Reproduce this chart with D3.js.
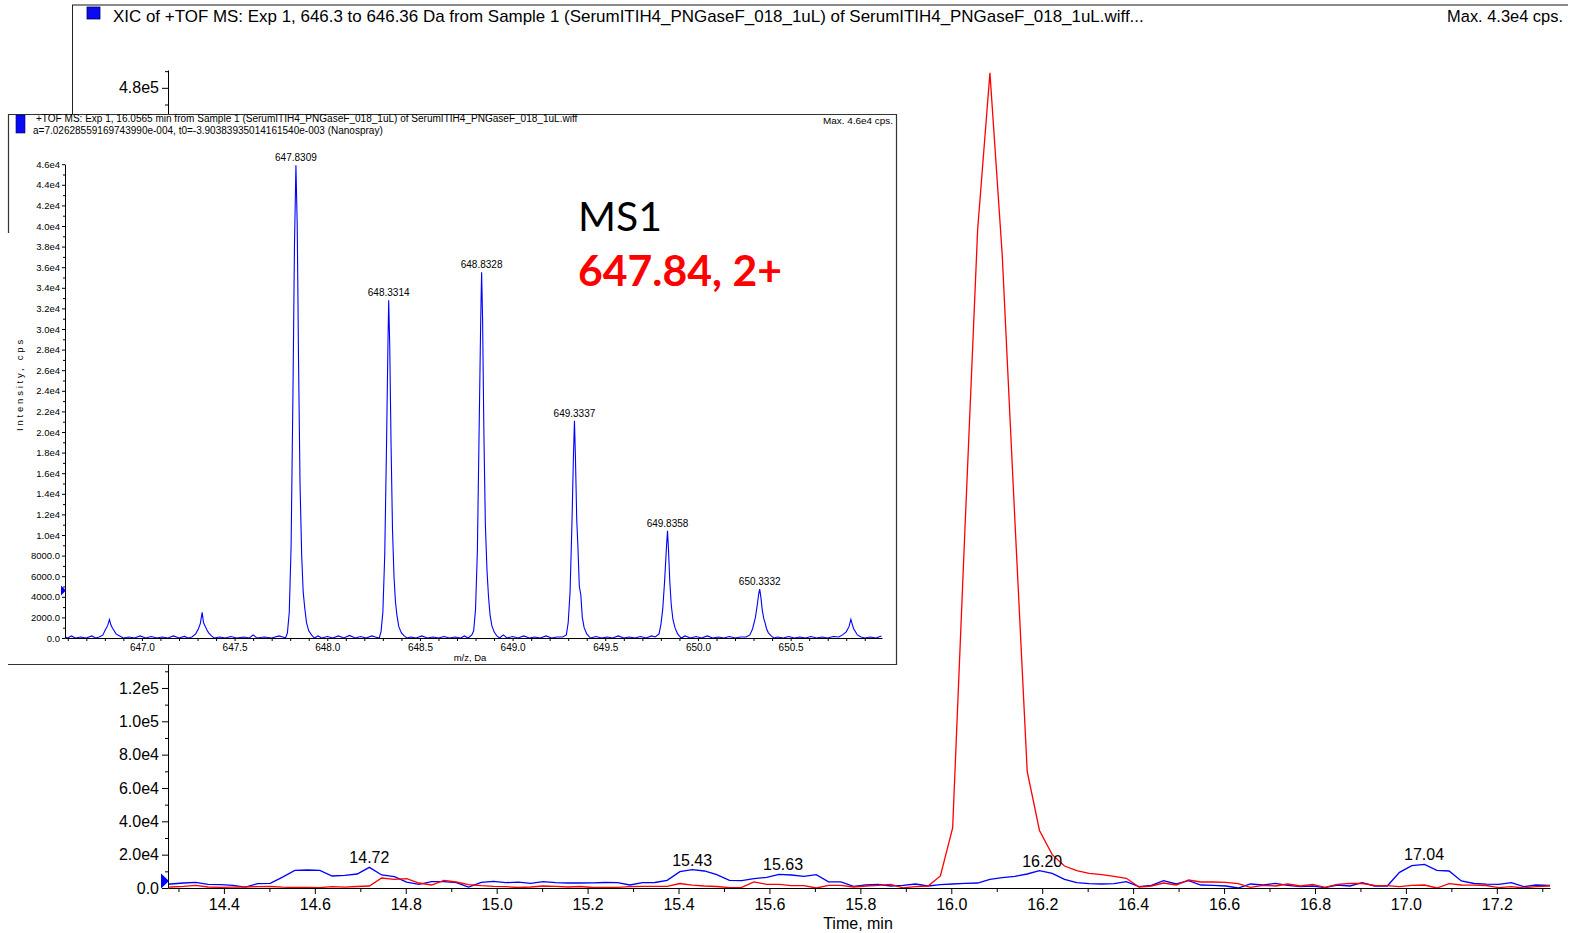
<!DOCTYPE html>
<html>
<head>
<meta charset="utf-8">
<script src="https://cdn.jsdelivr.net/npm/d3@7"></script>
<style>
body { margin: 0; background: #fff; }
svg { display: block; }
text { font-family: "Liberation Sans", Arial, sans-serif; }
</style>
</head>
<body>
<script>
// XIC traces (time in min, intensity in cps)
const xicTime = [14.256, 14.283, 14.311, 14.338, 14.365, 14.393, 14.420, 14.447, 14.474, 14.502,
    14.529, 14.556, 14.584, 14.611, 14.638, 14.666, 14.693, 14.720, 14.747, 14.775,
    14.802, 14.829, 14.857, 14.884, 14.911, 14.938, 14.966, 14.993, 15.020, 15.048,
    15.075, 15.102, 15.130, 15.157, 15.184, 15.211, 15.239, 15.266, 15.293, 15.321,
    15.348, 15.375, 15.403, 15.430, 15.457, 15.484, 15.512, 15.539, 15.566, 15.594,
    15.621, 15.648, 15.676, 15.703, 15.730, 15.757, 15.785, 15.812, 15.839, 15.867,
    15.894, 15.921, 15.949, 15.976, 16.003, 16.030, 16.058, 16.085, 16.112, 16.140,
    16.167, 16.194, 16.222, 16.249, 16.276, 16.303, 16.331, 16.358, 16.385, 16.413,
    16.440, 16.467, 16.495, 16.522, 16.549, 16.576, 16.604, 16.631, 16.658, 16.686,
    16.713, 16.740, 16.768, 16.795, 16.822, 16.849, 16.877, 16.904, 16.931, 16.959,
    16.986, 17.013, 17.041, 17.068, 17.095, 17.122, 17.150, 17.177, 17.204, 17.232,
    17.259, 17.286, 17.314, 17.341]

const xicBlue = [2400, 2400, 3000, 3400, 2200, 2000, 1600, 500, 2600, 2800,
    6500, 10600, 10800, 10600, 7200, 7600, 8400, 12400, 7800, 6800,
    3500, 2200, 3800, 3800, 3200, 500, 3400, 4000, 3200, 3500,
    2800, 3800, 3200, 3000, 3000, 3100, 3300, 3200, 1800, 3200,
    3300, 4600, 9800, 11000, 10200, 8000, 4600, 4400, 5600, 6400,
    8200, 7800, 7000, 8000, 3700, 3700, 1000, 1800, 2200, 1200,
    1600, 2400, 1200, 2000, 2400, 2800, 3000, 5200, 6200, 7000,
    8400, 10400, 8800, 5200, 3200, 2600, 2400, 2600, 3800, 800,
    1600, 4400, 2400, 4400, 1800, 1600, 1200, 0, 2400, 1800,
    2800, 1600, 800, 1200, 200, 1800, 1200, 3200, 1200, 1200,
    9400, 13400, 14200, 10600, 10200, 4200, 2700, 2300, 2200, 3200,
    800, 1800, 1600, 1600]

const xicRed = [500, 600, 1000, 1600, 600, 400, 500, 600, 800, 900,
    500, 300, 400, 200, 800, 500, 900, 1200, 6000, 5200,
    5600, 3000, 1800, 4600, 3600, 2000, 1400, 1000, 800, 300,
    600, 1200, 1000, 600, 900, 300, 400, 400, 800, 1000,
    1000, 1000, 2700, 1700, 1200, 900, 200, 400, 3700, 2200,
    2200, 1400, 1400, 0, 1600, 1600, 600, 1200, 1600, 2200,
    100, 800, 1200, 7200, 36000, 215000, 395000, 489000, 380000, 220000,
    70000, 34500, 20000, 13200, 10400, 8800, 8000, 7000, 5800, 600,
    1200, 3000, 1800, 4800, 3600, 3600, 3400, 2600, 400, 1600,
    1200, 2400, 1200, 2200, 400, 2200, 2800, 2700, 1600, 1400,
    800, 1600, 1800, 0, 2600, 1800, 1700, 1500, 200, 800,
    0, 800, 1200, 1200]

const xicPeakTimes = [14.72, 15.43, 15.63, 16.20, 17.04]
const xicTimeTicks = [14.4, 14.6, 14.8, 15.0, 15.2, 15.4, 15.6, 15.8, 16.0, 16.2, 16.4, 16.6, 16.8, 17.0, 17.2]
const xicTimeMinor = [14.3, 14.5, 14.7, 14.9, 15.1, 15.3, 15.5, 15.7, 15.9, 16.1, 16.3, 16.5, 16.7, 16.9, 17.1, 17.3]
const xicYTicks = [0, 20000, 40000, 60000, 80000, 100000, 120000, 140000, 160000, 180000, 200000, 220000,
    240000, 260000, 280000, 300000, 320000, 340000, 360000, 380000, 400000, 420000, 440000, 460000, 480000]

// MS1 spectrum of the inset: [m/z, intensity]
const msBaseline = [[646.585, 100], [646.60, 0], [646.62, 200], [646.64, 0], [646.67, 100], [646.70, 0], [646.73, 200], [646.75, 0],
    [646.93, 100], [646.96, 0], [646.99, 200], [647.02, 0], [647.05, 150], [647.08, 0], [647.11, 100], [647.14, 0], [647.17, 200], [647.20, 0], [647.23, 150], [647.25, 0],
    [647.42, 100], [647.45, 0], [647.48, 150], [647.51, 0], [647.55, 100], [647.58, 0], [647.60, 300], [647.62, 0], [647.66, 100], [647.70, 0], [647.74, 200],
    [647.95, 200], [647.97, 0], [648.00, 150], [648.03, 0], [648.06, 200], [648.09, 0], [648.12, 250], [648.15, 0], [648.18, 150], [648.21, 0], [648.24, 200],
    [648.45, 100], [648.48, 0], [648.51, 200], [648.54, 0], [648.57, 100], [648.60, 0], [648.63, 150], [648.66, 0], [648.69, 100], [648.72, 0], [648.74, 200],
    [648.95, 300], [648.97, 0], [649.00, 150], [649.03, 0], [649.06, 200], [649.09, 0], [649.12, 100], [649.15, 0], [649.18, 200], [649.21, 0], [649.24, 100],
    [649.45, 150], [649.48, 0], [649.51, 100], [649.54, 0], [649.57, 200], [649.60, 0], [649.63, 100], [649.66, 0], [649.69, 150], [649.72, 0], [649.75, 200],
    [649.93, 200], [649.96, 0], [649.99, 150], [650.02, 0], [650.05, 200], [650.08, 0], [650.11, 100], [650.14, 0], [650.17, 150], [650.20, 0], [650.23, 100],
    [650.43, 100], [650.46, 0], [650.49, 150], [650.52, 0], [650.55, 100], [650.58, 0], [650.61, 150], [650.64, 0], [650.67, 100], [650.70, 0], [650.73, 150],
    [650.93, 100], [650.96, 0], [650.99, 200]]

const msSmallPeaks = [[646.77, 100], [646.79, 300], [646.80, 700], [646.815, 1200], [646.825, 1800], [646.832, 1300], [646.84, 1000], [646.85, 700], [646.86, 400], [646.88, 200], [646.90, 0],
    [647.27, 100], [647.29, 400], [647.305, 900], [647.315, 1400], [647.325, 2500], [647.332, 1500], [647.34, 1200], [647.35, 800], [647.36, 500], [647.375, 200], [647.39, 0],
    [650.76, 100], [650.78, 300], [650.80, 600], [650.815, 1100], [650.825, 1800], [650.833, 1300], [650.84, 900], [650.85, 600], [650.86, 300], [650.88, 100], [650.90, 0]]

const msIsotope1 = [[647.760, 100], [647.775, 0], [647.785, 500], [647.795, 2500], [647.805, 9000], [647.815, 24000], [647.823, 38000], [647.8309, 45900],
    [647.838, 40000], [647.845, 27000], [647.853, 15000], [647.862, 8000], [647.870, 4500], [647.878, 3000], [647.888, 1500], [647.900, 700], [647.915, 300], [647.930, 0]]
const msIsotope2 = [[648.26, 100], [648.28, 0], [648.29, 600], [648.30, 2500], [648.31, 8000], [648.32, 19000], [648.327, 28000], [648.3314, 32800],
    [648.337, 28500], [648.344, 19000], [648.352, 10500], [648.36, 6000], [648.368, 3500], [648.376, 2200], [648.386, 1100], [648.40, 500], [648.415, 200], [648.43, 0]]
const msIsotope3 = [[648.76, 0], [648.78, 300], [648.79, 700], [648.80, 2800], [648.81, 8500], [648.82, 21000], [648.828, 31000], [648.8328, 35500],
    [648.838, 31000], [648.845, 20000], [648.853, 11000], [648.862, 6500], [648.87, 4000], [648.878, 2300], [648.888, 1200], [648.90, 600], [648.915, 200], [648.93, 0]]
const msIsotope4 = [[649.27, 100], [649.29, 300], [649.30, 1500], [649.31, 4500], [649.32, 11000], [649.328, 17500], [649.3337, 21100],
    [649.339, 17500], [649.346, 11500], [649.352, 9000], [649.36, 5000], [649.368, 4200], [649.376, 2000], [649.386, 1000], [649.40, 400], [649.42, 0]]
const msIsotope5 = [[649.77, 100], [649.79, 400], [649.80, 1300], [649.81, 2800], [649.82, 5500], [649.83, 8800], [649.8358, 10400],
    [649.841, 8600], [649.848, 5500], [649.856, 3200], [649.865, 1800], [649.876, 1000], [649.89, 400], [649.91, 0]]
const msIsotope6 = [[650.26, 100], [650.28, 300], [650.295, 900], [650.31, 2000], [650.32, 3200], [650.328, 4300], [650.3332, 4750],
    [650.34, 3900], [650.347, 2700], [650.355, 1900], [650.362, 1500], [650.37, 900], [650.38, 500], [650.395, 200], [650.41, 0]]

const msPeakLabels = ['647.8309', '648.3314', '648.8328', '649.3337', '649.8358', '650.3332']
const msYTicks = [0, 2000, 4000, 6000, 8000, 10000, 12000, 14000, 16000, 18000, 20000, 22000,
    24000, 26000, 28000, 30000, 32000, 34000, 36000, 38000, 40000, 42000, 44000, 46000]
const msXTicks = [647.0, 647.5, 648.0, 648.5, 649.0, 649.5, 650.0, 650.5]
const msXMinor = [646.6, 646.7, 646.8, 646.9, 647.1, 647.2, 647.3, 647.4, 647.6, 647.7, 647.8, 647.9,
    648.1, 648.2, 648.3, 648.4, 648.6, 648.7, 648.8, 648.9, 649.1, 649.2, 649.3, 649.4,
    649.6, 649.7, 649.8, 649.9, 650.1, 650.2, 650.3, 650.4, 650.6, 650.7, 650.8, 650.9]

const xicTitle = 'XIC of +TOF MS: Exp 1, 646.3 to 646.36 Da from Sample 1 (SerumITIH4_PNGaseF_018_1uL) of SerumITIH4_PNGaseF_018_1uL.wiff...'
const msTitle1 = '+TOF MS: Exp 1, 16.0565 min from Sample 1 (SerumITIH4_PNGaseF_018_1uL) of SerumITIH4_PNGaseF_018_1uL.wiff'
const msTitle2 = 'a=7.02628559169743990e-004, t0=-3.90383935014161540e-003 (Nanospray)'

const svg = d3.select('body').append('svg')
    .attr('width', 1571)
    .attr('height', 933)

function fitWidth(text, width) {
    const size = parseFloat(text.attr('font-size'))
    text.attr('font-size', size * width / text.node().getComputedTextLength())
}

function fmtXic(v) {
    if (v >= 100000) return (v / 100000).toFixed(1) + 'e5'
    if (v >= 10000) return (v / 10000).toFixed(1) + 'e4'
    return v.toFixed(1)
}

function fmtMs(v) {
    if (v >= 10000) return (v / 10000).toFixed(1) + 'e4'
    return v.toFixed(1)
}

function marker(px, py, w, h) {
    return `M${px - w},${py - h}L${px + 1},${py}L${px - w},${py + h}Z`
}

drawXic()
drawInset()

function drawXic() {
    const x = d3.scaleLinear().domain([14.277, 17.317]).range([168, 1550])
    const y = d3.scaleLinear().domain([0, 490700]).range([888, 70])

    // header
    svg.append('line').attr('x1', 72).attr('x2', 1568).attr('y1', 5).attr('y2', 5)
        .attr('stroke', '#8a8a8a').attr('stroke-width', 2)
    svg.append('line').attr('x1', 72.5).attr('x2', 72.5).attr('y1', 5).attr('y2', 114)
        .attr('stroke', '#222')
    svg.append('rect').attr('x', 87).attr('y', 7).attr('width', 13).attr('height', 12)
        .attr('fill', '#0a0af5').attr('stroke', '#00005a').attr('stroke-width', 0.8)
    const title = svg.append('text').attr('x', 113).attr('y', 22).attr('font-size', 15).text(xicTitle)
    fitWidth(title, 1032)
    const maxText = svg.append('text').attr('x', 1563).attr('y', 22).attr('font-size', 15)
        .attr('text-anchor', 'end').text('Max. 4.3e4 cps.')
    fitWidth(maxText, 116)

    svg.append('clipPath').attr('id', 'xicClip')
        .append('rect').attr('x', 168).attr('y', 50).attr('width', 1382).attr('height', 840)

    const line = d3.line()
        .x((d, i) => x(xicTime[i]))
        .y(d => y(d))

    svg.append('path').datum(xicBlue)
        .attr('d', line).attr('fill', 'none').attr('stroke', '#0000ff').attr('stroke-width', 1.3)
        .attr('clip-path', 'url(#xicClip)')
    svg.append('path').datum(xicRed)
        .attr('d', line).attr('fill', 'none').attr('stroke', '#ff0000').attr('stroke-width', 1.3)
        .attr('clip-path', 'url(#xicClip)')

    // x axis
    const xAxis = svg.append('g').attr('transform', 'translate(0,888)')
        .call(d3.axisBottom(x).tickValues(xicTimeTicks).tickSize(6).tickSizeOuter(0).tickPadding(5).tickFormat(d3.format('.1f')))
    xAxis.attr('font-size', 16)
    svg.append('g').attr('transform', 'translate(0,888)')
        .call(d3.axisBottom(x).tickValues(xicTimeMinor).tickSize(4).tickFormat(''))
        .call(g => g.select('.domain').remove())

    // y axis, labels hidden behind the inset are dropped
    const yAxis = svg.append('g').attr('transform', 'translate(168,0)')
        .call(d3.axisLeft(y).tickValues(xicYTicks).tickSize(6).tickSizeOuter(0).tickPadding(3).tickFormat(fmtXic))
    yAxis.attr('font-size', 16)
    yAxis.selectAll('.tick text').filter(d => y(d) > 105 && y(d) < 672).remove()
    svg.append('g').attr('transform', 'translate(168,0)')
        .call(d3.axisLeft(y).tickValues(xicYTicks.map(v => v + 10000)).tickSize(3).tickFormat(''))
        .call(g => g.select('.domain').remove())

    svg.append('text').attr('x', 858).attr('y', 929).attr('font-size', 16)
        .attr('text-anchor', 'middle').text('Time, min')

    svg.append('path').attr('d', marker(168, y(4200), 7, 7.5)).attr('fill', '#0000ff')

    // apex labels of the blue trace
    svg.selectAll('.xic-label')
        .data(xicPeakTimes)
        .enter()
        .append('text')
        .attr('class', 'xic-label')
        .attr('font-size', 16)
        .attr('text-anchor', 'middle')
        .attr('x', d => x(d))
        .attr('y', d => {
            const i = d3.minIndex(xicTime, t => Math.abs(t - d))
            return y(xicBlue[i]) - 4
        })
        .text(d => d.toFixed(2))
}

function drawInset() {
    const mzX = d3.scaleLinear().domain([646.585, 650.993]).range([65, 882])
    const intY = d3.scaleLinear().domain([0, 46000]).range([638, 164.2])

    const inset = svg.append('g')
    inset.append('rect').attr('x', 8).attr('y', 114).attr('width', 888).attr('height', 551).attr('fill', '#fff')
    inset.append('path').attr('d', 'M8.5,233V114.5H896.5V664.5H8')
        .attr('fill', 'none').attr('stroke', '#333').attr('stroke-width', 1.2)

    inset.append('rect').attr('x', 16).attr('y', 115).attr('width', 9).attr('height', 18)
        .attr('fill', '#0a0af5').attr('stroke', '#00005a').attr('stroke-width', 0.6)
    const t1 = inset.append('text').attr('x', 36).attr('y', 122).attr('font-size', 9.5).text(msTitle1)
    fitWidth(t1, 542)
    const t2 = inset.append('text').attr('x', 33).attr('y', 134).attr('font-size', 9.5).text(msTitle2)
    fitWidth(t2, 350)
    const mx = inset.append('text').attr('x', 893).attr('y', 124).attr('font-size', 9.5)
        .attr('text-anchor', 'end').text('Max. 4.6e4 cps.')
    fitWidth(mx, 70)

    const spectrum = msBaseline.concat(msSmallPeaks, msIsotope1, msIsotope2, msIsotope3, msIsotope4, msIsotope5, msIsotope6)
        .sort((a, b) => a[0] - b[0])

    inset.append('path').datum(spectrum)
        .attr('d', d3.line().x(d => mzX(d[0])).y(d => intY(d[1])))
        .attr('fill', 'none').attr('stroke', '#0000ff').attr('stroke-width', 1.1)

    const xAxis = inset.append('g').attr('transform', 'translate(0,638)')
        .call(d3.axisBottom(mzX).tickValues(msXTicks).tickSize(3).tickSizeOuter(0).tickPadding(3).tickFormat(d3.format('.1f')))
    xAxis.attr('font-size', 10)
    inset.append('g').attr('transform', 'translate(0,638)')
        .call(d3.axisBottom(mzX).tickValues(msXMinor).tickSize(3).tickFormat(''))
        .call(g => g.select('.domain').remove())

    const yAxis = inset.append('g').attr('transform', 'translate(65,0)')
        .call(d3.axisLeft(intY).tickValues(msYTicks).tickSize(3).tickSizeOuter(0).tickPadding(2).tickFormat(fmtMs))
    yAxis.attr('font-size', 9.5)
    inset.append('g').attr('transform', 'translate(65,0)')
        .call(d3.axisLeft(intY).tickValues(msYTicks.slice(0, -1).map(v => v + 1000)).tickSize(2).tickFormat(''))
        .call(g => g.select('.domain').remove())

    inset.append('text').attr('x', 470).attr('y', 661).attr('font-size', 9.5)
        .attr('text-anchor', 'middle').text('m/z, Da')
    inset.append('text').attr('transform', 'translate(23,384) rotate(-90)').attr('font-size', 9.5)
        .attr('text-anchor', 'middle').attr('letter-spacing', 2.8).text('Intensity, cps')

    inset.append('path').attr('d', marker(65, intY(4600), 4, 5)).attr('fill', '#0000ff')

    // centroid labels
    inset.selectAll('.ms-label')
        .data(msPeakLabels)
        .enter()
        .append('text')
        .attr('class', 'ms-label')
        .attr('font-size', 10)
        .attr('text-anchor', 'middle')
        .attr('x', d => mzX(+d))
        .attr('y', d => {
            const top = d3.max(spectrum.filter(p => Math.abs(p[0] - d) < 0.02), p => p[1])
            return intY(top) - 4
        })
        .text(d => d)

    const ms1 = inset.append('text').attr('x', 578).attr('y', 231).attr('font-size', 42)
        .style('font-family', 'Lato, "Open Sans", sans-serif').text('MS1')
    fitWidth(ms1, 84)
    const ion = inset.append('text').attr('x', 578).attr('y', 286).attr('font-size', 43)
        .style('font-family', 'Lato, "Open Sans", sans-serif').attr('font-weight', 'bold')
        .attr('fill', '#ff0000').text('647.84, 2+')
    fitWidth(ion, 204)
}
</script>
</body>
</html>
